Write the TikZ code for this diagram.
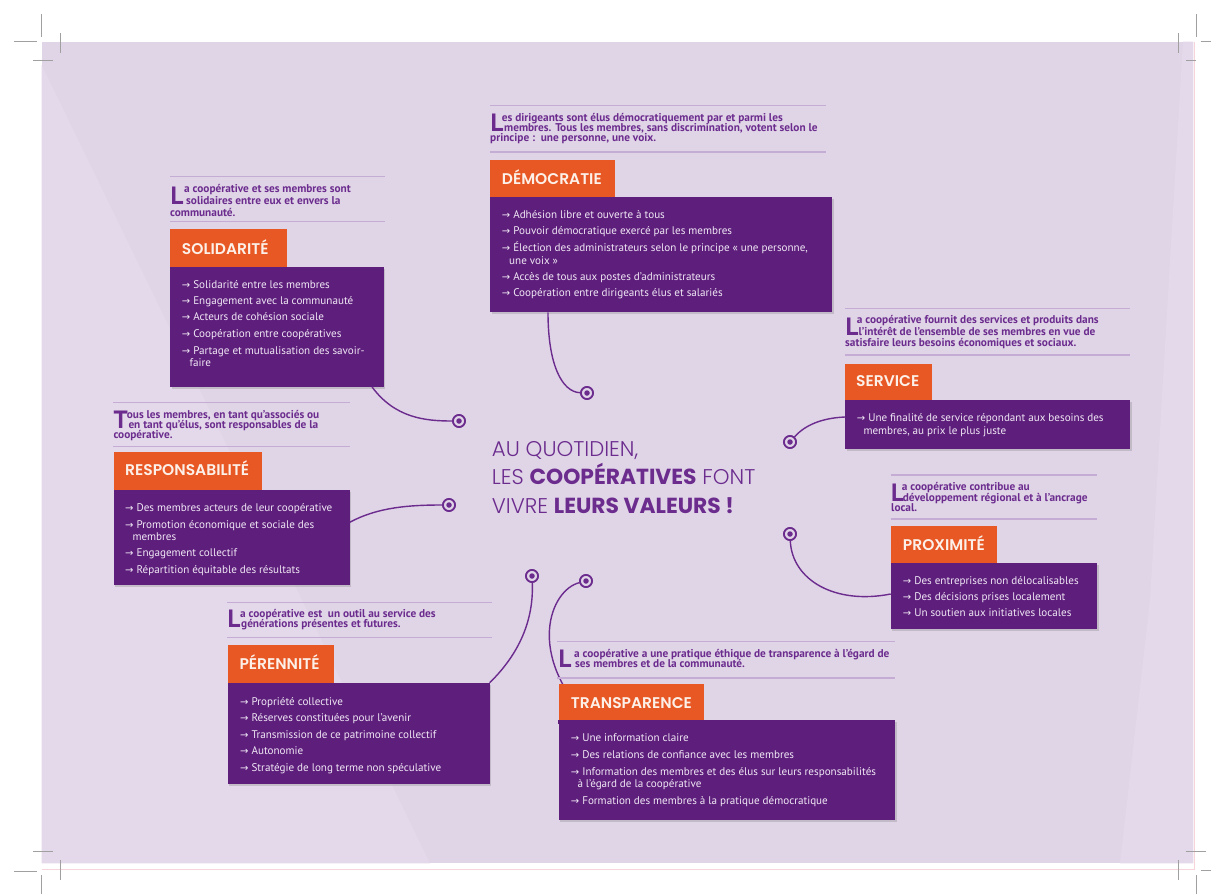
\documentclass[tikz,border=0pt]{standalone}
\usepackage{fontspec}
\setmainfont{PT Sans}
\newfontfamily\dejavu{DejaVu Sans}
\IfFontExistsTF{Poppins SemiBold}{\newfontfamily\titlefont{Poppins SemiBold}}{\newfontfamily\titlefont{Poppins}}
\IfFontExistsTF{Poppins Light}{\newfontfamily\lightfont{Poppins Light}}{\newfontfamily\lightfont{Poppins}}
\IfFontExistsTF{Poppins Bold}{\newfontfamily\heavyfont{Poppins Bold}}{\newfontfamily\heavyfont{Poppins}[FakeBold=2]}
\usetikzlibrary{shadows}
\definecolor{bglav}{RGB}{224,212,231}
\definecolor{bglight}{RGB}{228,217,234}
\definecolor{boxpurple}{RGB}{94,30,124}
\definecolor{orangebox}{RGB}{232,88,36}
\definecolor{txtpurple}{RGB}{107,44,142}
\definecolor{linepurple}{RGB}{196,172,212}
\definecolor{itemwhite}{RGB}{240,232,245}
\definecolor{titlewhite}{RGB}{252,240,232}
\definecolor{cropgray}{RGB}{160,160,160}
\definecolor{pinkline}{RGB}{245,212,218}
\newcommand\arr{{\dejavu\fontsize{10}{10}\selectfont →}\hspace{3pt}}
\tikzset{
  desc/.style={anchor=base west, inner sep=0pt, text=txtpurple, font=\fontsize{11.3}{11}\selectfont\bfseries},
  dcap/.style={anchor=base west, inner sep=0pt, text=txtpurple, font=\fontsize{25}{25}\selectfont\bfseries},
  sepline/.style={draw=linepurple, line width=1.3pt},
  titlebox/.style={fill=orangebox, draw=none, anchor=north west, inner sep=0pt},
  titletxt/.style={anchor=base west, inner sep=0pt, text=titlewhite, font=\titlefont\fontsize{15.5}{16}\selectfont},
  itembox/.style={fill=boxpurple, anchor=north west, inner sep=0pt, drop shadow={opacity=0.3, shadow xshift=1.5pt, shadow yshift=-2pt}},
  itemtxt/.style={anchor=base west, inner sep=0pt, text=itemwhite, font=\fontsize{11.1}{12}\selectfont},
  target/.style={circle, draw=txtpurple, line width=1.7pt, fill=bglav, minimum size=12pt, inner sep=0pt},
  targetdot/.style={circle, fill=txtpurple, minimum size=5.5pt, inner sep=0pt},
  conn/.style={draw=txtpurple, line width=1.4pt},
  crop/.style={draw=cropgray, line width=0.8pt},
  bigtxt/.style={anchor=base west, inner sep=0pt, text=txtpurple, font=\lightfont\fontsize{21.3}{21}\selectfont},
  bigbold/.style={font=\heavyfont\fontsize{22}{21}\selectfont}
}
\newcommand\bigb[1]{{\heavyfont\fontsize{21.8}{21}\selectfont #1}}
\begin{document}
\begin{tikzpicture}[x=1pt,y=-1pt]
\useasboundingbox (0,0) rectangle (1211,894);
\fill[white] (0,0) rectangle (1211,894);
\fill[bglav] (41.7,41.7) rectangle (1193.3,863.3);
\fill[bglight] (41.7,65) -- (430,863.3) -- (41.7,863.3) -- cycle;
\fill[bglight] (1183,41.7) -- (1193.3,41.7) -- (1193.3,863.3) -- (1120,863.3) -- (1150,600) -- cycle;
\draw[pinkline, line width=0.8pt] (41.7,869) -- (1194,869) -- (1194,41.7);
% crop marks
\draw[crop] (41.7,14) -- (41.7,37);
\draw[crop] (14,41.7) -- (37,41.7);
\draw[crop] (60,33) -- (60,53);
\draw[crop] (33,60) -- (53,60);
\draw[crop] (1196.7,14) -- (1196.7,37);
\draw[crop] (1200.7,41.7) -- (1211,41.7);
\draw[crop] (1178.3,33) -- (1178.3,53);
\draw[crop] (1186,60) -- (1196,60);
\draw[crop] (33,851.7) -- (53,851.7);
\draw[crop] (60,860) -- (60,880);
\draw[crop] (14,871) -- (37,871);
\draw[crop] (41.7,875) -- (41.7,894);
\draw[crop] (1185.7,851.7) -- (1205.7,851.7);
\draw[crop] (1178.3,860) -- (1178.3,880);
\draw[crop] (1201,870.7) -- (1211,870.7);
\draw[crop] (1196.7,875) -- (1196.7,894);

% targets (positions)
\node[target] (cdem) at (587,393) {};
\node[target] (csol) at (459,421) {};
\node[target] (cresp) at (449,505) {};
\node[target] (cserv) at (790,442) {};
\node[target] (cprox) at (790,534) {};
\node[target] (cper) at (532,576) {};
\node[target] (ctrans) at (586,581) {};

% boxes
\node[itembox, minimum width=342pt, minimum height=115.5pt] (demB) at (490,196.5) {};
\node[itembox, minimum width=213.3pt, minimum height=119.5pt] (solB) at (170,267) {};
\node[itembox, minimum width=236pt, minimum height=95.7pt] (respB) at (113.3,489.3) {};
\node[itembox, minimum width=285pt, minimum height=48.3pt] (servB) at (845,400) {};
\node[itembox, minimum width=206.3pt, minimum height=65.3pt] (proxB) at (890.7,563) {};
\node[itembox, minimum width=262pt, minimum height=100.6pt] (perB) at (227.3,682.7) {};
\node[itembox, minimum width=336.7pt, minimum height=100pt] (transB) at (558.3,720) {};

% connectors
\draw[conn] ([xshift=58pt]demB.south west) .. controls (548,365) and (562,392) .. (cdem);
\draw[conn] ([xshift=202pt]solB.south west) .. controls (395,418) and (425,421) .. (csol);
\draw[conn] ([yshift=-33pt]respB.north east) .. controls (378,507) and (410,505) .. (cresp);
\draw[conn] (cserv) .. controls (805,425) and (822,418) .. ([yshift=-17pt]servB.north west);
\draw[conn] (cprox) .. controls (792,580) and (835,605) .. ([yshift=-31pt]proxB.north west);
\draw[conn] (cper) .. controls (534,625) and (515,658) .. (perB.north east);
\draw[conn] (ctrans) .. controls (550,590) and (525,655) .. ([xshift=33pt,yshift=-2pt]transB.north west);
% target centres on top of lines
\foreach \c in {cdem,csol,cresp,cserv,cprox,cper,ctrans}{
  \node[target] (\c-ring) at (\c) {};
  \node[targetdot] (\c-dot) at (\c) {};
}
% orange title boxes
\node[titlebox, minimum width=125pt, minimum height=36.5pt] (demO) at (490,160) {};
\node[titlebox, minimum width=116.7pt, minimum height=38pt] (solO) at (170,229) {};
\node[titlebox, minimum width=148.4pt, minimum height=37.6pt] (respO) at (113.3,451.7) {};
\node[titlebox, minimum width=86.7pt, minimum height=36.7pt] (servO) at (845,363.3) {};
\node[titlebox, minimum width=106.3pt, minimum height=37pt] (proxO) at (890.7,526) {};
\node[titlebox, minimum width=106.7pt, minimum height=37.7pt] (perO) at (227.3,645) {};
\node[titlebox, minimum width=145.7pt, minimum height=36.7pt] (transO) at (558.3,683.3) {};
\fill[boxpurple] (transB.north west) rectangle ([yshift=-4pt]transB.north east);

% ---------------- DEMOCRATIE
\draw[sepline] (490,105.7) -- (826,105.7);
\draw[sepline] (490,152) -- (826,152);
\node[dcap] (demL) at (490.5,131.5) {L};
\node[desc] (demd1) at (501.7,121) {es dirigeants sont élus démocratiquement par et parmi les};
\node[desc] (demd2) at (504,131.5) {membres. Tous les membres, sans discrimination, votent selon le};
\node[desc] (demd3) at (490,141.8) {principe :\ \ une personne, une voix.};
\node[titletxt] (demH) at (501.7,184.1) {DÉMOCRATIE};
\node[itemtxt] (dem1) at (501.7,218) {\arr Adhésion libre et ouverte à tous};
\node[itemtxt] (dem2) at (501.7,234.7) {\arr Pouvoir démocratique exercé par les membres};
\node[itemtxt] (dem3) at (501.7,251.3) {\arr Élection des administrateurs selon le principe « une personne,};
\node[itemtxt] (dem3b) at (509,264) {une voix »};
\node[itemtxt] (dem4) at (501.7,280.7) {\arr Accès de tous aux postes d’administrateurs};
\node[itemtxt] (dem5) at (501.7,296.7) {\arr Coopération entre dirigeants élus et salariés};

% ---------------- SOLIDARITE
\draw[sepline] (170,176.7) -- (385,176.7);
\draw[sepline] (170,221.7) -- (385,221.7);
\node[dcap] (solL) at (170.5,204) {L};
\node[desc] (sold1) at (184,192.3) {a coopérative et ses membres sont};
\node[desc] (sold2) at (186,204) {solidaires entre eux et envers la};
\node[desc] (sold3) at (170,216) {communauté.};
\node[titletxt] (solH) at (181.7,254.1) {SOLIDARITÉ};
\node[itemtxt] (sol1) at (181.7,288.3) {\arr Solidarité entre les membres};
\node[itemtxt] (sol2) at (181.7,304.7) {\arr Engagement avec la communauté};
\node[itemtxt] (sol3) at (181.7,320.7) {\arr Acteurs de cohésion sociale};
\node[itemtxt] (sol4) at (181.7,337.3) {\arr Coopération entre coopératives};
\node[itemtxt] (sol5) at (181.7,354) {\arr Partage et mutualisation des savoir-};
\node[itemtxt] (sol5b) at (189.3,366.7) {faire};

% ---------------- RESPONSABILITE
\draw[sepline] (113.3,402.7) -- (350,402.7);
\draw[sepline] (113.3,446.7) -- (350,446.7);
\node[dcap] (respL) at (113.5,428) {T};
\node[desc] (respd1) at (126.7,418) {ous les membres, en tant qu’associés ou};
\node[desc] (respd2) at (128.3,428) {en tant qu’élus, sont responsables de la};
\node[desc] (respd3) at (113.3,438) {coopérative.};
\node[titletxt] (respH) at (125,475.8) {RESPONSABILITÉ};
\node[itemtxt] (resp1) at (125,511.3) {\arr Des membres acteurs de leur coopérative};
\node[itemtxt] (resp2) at (125,528) {\arr Promotion économique et sociale des};
\node[itemtxt] (resp2b) at (132.3,540) {membres};
\node[itemtxt] (resp3) at (125,556.7) {\arr Engagement collectif};
\node[itemtxt] (resp4) at (125,573) {\arr Répartition équitable des résultats};

% ---------------- SERVICE
\draw[sepline] (845,308.3) -- (1130,308.3);
\draw[sepline] (845,355) -- (1130,355);
\node[dcap] (servL) at (845.5,335) {L};
\node[desc] (servd1) at (856.7,323.3) {a coopérative fournit des services et produits dans};
\node[desc] (servd2) at (858.3,335) {l’intérêt de l’ensemble de ses membres en vue de};
\node[desc] (servd3) at (845,346) {satisfaire leurs besoins économiques et sociaux.};
\node[titletxt] (servH) at (856,386.8) {SERVICE};
\node[itemtxt] (serv1) at (856.7,421.3) {\arr Une finalité de service répondant aux besoins des};
\node[itemtxt] (serv1b) at (863.3,434) {membres, au prix le plus juste};

% ---------------- PROXIMITE
\draw[sepline] (890.7,475) -- (1096.7,475);
\draw[sepline] (890.7,519) -- (1096.7,519);
\node[dcap] (proxL) at (891,501.7) {L};
\node[desc] (proxd1) at (901.7,490.7) {a coopérative contribue au};
\node[desc] (proxd2) at (902.7,501.7) {développement régional et à l’ancrage};
\node[desc] (proxd3) at (891,511.7) {local.};
\node[titletxt] (proxH) at (902.7,550.8) {PROXIMITÉ};
\node[itemtxt] (prox1) at (902.7,584) {\arr Des entreprises non délocalisables};
\node[itemtxt] (prox2) at (902.7,600.7) {\arr Des décisions prises localement};
\node[itemtxt] (prox3) at (902.7,616.7) {\arr Un soutien aux initiatives locales};

% ---------------- PERENNITE
\draw[sepline] (227,602.7) -- (491.7,602.7);
\draw[sepline] (227,637.7) -- (491.7,637.7);
\node[dcap] (perL) at (227.5,627.5) {L};
\node[desc] (perd1) at (240,617.7) {a coopérative est\ \ un outil au service des};
\node[desc] (perd2) at (241,627.5) {générations présentes et futures.};
\node[titletxt] (perH) at (239.3,669.1) {PÉRENNITÉ};
\node[itemtxt] (per1) at (240,705.7) {\arr Propriété collective};
\node[itemtxt] (per2) at (240,721.3) {\arr Réserves constituées pour l’avenir};
\node[itemtxt] (per3) at (240,738) {\arr Transmission de ce patrimoine collectif};
\node[itemtxt] (per4) at (240,754.7) {\arr Autonomie};
\node[itemtxt] (per5) at (240,771.3) {\arr Stratégie de long terme non spéculative};

% ---------------- TRANSPARENCE
\draw[sepline] (557,641.7) -- (895,641.7);
\draw[sepline] (557,678) -- (895,678);
\node[dcap] (transL) at (558.3,667.5) {L};
\node[desc] (transd1) at (574,657) {a coopérative a une pratique éthique de transparence à l’égard de};
\node[desc] (transd2) at (575,667.5) {ses membres et de la communauté.};
\node[titletxt] (transH) at (570.7,708.5) {TRANSPARENCE};
\node[itemtxt] (trans1) at (570.7,741.3) {\arr Une information claire};
\node[itemtxt] (trans2) at (570.7,758) {\arr Des relations de confiance avec les membres};
\node[itemtxt] (trans3) at (570.7,775) {\arr Information des membres et des élus sur leurs responsabilités};
\node[itemtxt] (trans3b) at (577.3,787.3) {à l’égard de la coopérative};
\node[itemtxt] (trans4) at (570.7,804) {\arr Formation des membres à la pratique démocratique};

% ---------------- CENTRE
\node[bigtxt] (c1) at (491.7,456.3) {AU QUOTIDIEN,};
\node[bigtxt] (c2) at (491.7,484.7) {LES \bigb{COOPÉRATIVES} FONT};
\node[bigtxt] (c3) at (491.7,513) {VIVRE \bigb{LEURS VALEURS !}};
\end{tikzpicture}
\end{document}
